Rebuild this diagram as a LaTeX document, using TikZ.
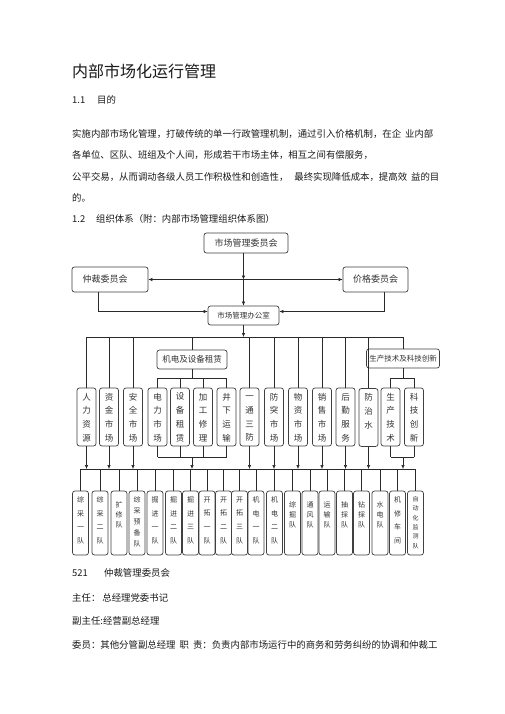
\documentclass[tikz,border=0pt]{standalone}
\usepackage{fontspec}
\setmainfont{Noto Sans CJK SC}
\usetikzlibrary{arrows.meta}
\definecolor{txt}{HTML}{1A1A1A}
\definecolor{dtxt}{HTML}{333333}
\definecolor{boxc}{HTML}{404040}
\definecolor{linec}{HTML}{2A2A2A}
\newcommand\ucol[1]{\parbox[c][58pt][t]{17pt}{\centering\fontsize{8.5}{13.7}\selectfont\vspace*{5pt}\vphantom{国}#1\par}}
\newcommand\bcol[4]{\parbox[c][64pt][t]{15pt}{\centering\fontsize{#1}{#2}\selectfont\vspace*{#3}\vphantom{国}#4\par}}
\newcommand\bfour[1]{\bcol{7}{13.6}{5.8pt}{#1}}
\newcommand\bthree[1]{\bcol{7}{10}{10.8pt}{#1}}
\begin{document}
\begin{tikzpicture}[x=1pt,y=-1pt,
  body/.style={anchor=west, inner sep=0pt, text=txt, font=\fontsize{9.4}{9.4}\selectfont},
  rbox/.style={draw=boxc, rounded corners=2.5pt, line width=0.7pt, inner sep=0pt, text=dtxt},
  ubox/.style={rbox, minimum width=19pt, minimum height=58pt},
  lbox/.style={rbox, minimum width=16pt, minimum height=64pt},
  ln/.style={draw=linec, line width=0.6pt},
  arr/.style={ln, -{Latex[length=4pt,width=3.5pt]}},
  arrr/.style={ln, {Latex[length=4pt,width=3.5pt]}-{Latex[length=4pt,width=3.5pt]}}]
\useasboundingbox (0,0) rectangle (505,714);
\fill[white] (0,0) rectangle (505,714);

% ---------- text ----------
\node[body, font=\fontsize{16}{16}\selectfont] (title) at (72,71) {内部市场化运行管理};
\node[body] (h11) at (72,100) {\makebox[25pt][l]{1.1}目的};
\node[body] (p1) at (72,134) {实施内部市场化管理，打破传统的单一行政管理机制，通过引入价格机制，在企\hspace{4pt}业内部};
\node[body] (p2) at (72,155) {各单位、区队、班组及个人间，形成若干市场主体，相互之间有偿服务，};
\node[body] (p3) at (72,177) {公平交易，从而调动各级人员工作积极性和创造性，\hspace{6pt}最终实现降低成本，提高效\hspace{4pt}益的目};
\node[body] (p4) at (72,198) {的。};
\node[body] (h12) at (72,219) {\makebox[24pt][l]{1.2}组织体系（附：内部市场管理组织体系图）};

\node[body] (h521) at (72,573) {\makebox[32pt][l]{521}仲裁管理委员会};
\node[body] (q1) at (72,598) {主任：\hspace{2pt}总经理党委书记};
\node[body] (q2) at (72,621) {副主任:经营副总经理};
\node[body] (q3) at (72,645) {委员：其他分管副总经理\hspace{4pt}职\hspace{4pt}责：负责内部市场运行中的商务和劳务纠纷的协调和仲裁工};

% ---------- top boxes ----------
\node[rbox, minimum width=84pt, minimum height=20pt, font=\fontsize{9}{9}\selectfont] (A) at (246,243) {市场管理委员会};
\node[rbox, minimum width=76pt, minimum height=25pt, font=\fontsize{9}{9}\selectfont] (B) at (110,279.5) {\hspace*{-10pt}仲裁委员会};
\node[rbox, minimum width=65pt, minimum height=25pt, font=\fontsize{9}{9}\selectfont] (C) at (375.5,279.5) {价格委员会};
\node[rbox, minimum width=71pt, minimum height=19pt, font=\fontsize{7.5}{7.5}\selectfont] (O) at (243.5,315.5) {市场管理办公室};
\coordinate (mid) at (O.north |- B.east);
\draw[arr] (A.south -| O.north) -- (mid);
\draw[arr] (mid) -- (O.north);
\draw[arrr] (B.east) -- (C.west);
\draw[arr] ([xshift=-12pt]B.south) |- ([yshift=4pt]O.west);
\draw[arr] ([xshift=8.5pt]C.south) |- ([yshift=4pt]O.east);

% ---------- group boxes ----------
\node[rbox, minimum width=70pt, minimum height=19pt, font=\fontsize{8.5}{8.5}\selectfont] (M) at (192,359.5) {机电及设备租赁};
\node[rbox, minimum width=73pt, minimum height=19pt, font=\fontsize{7.5}{7.5}\selectfont] (P) at (403,358.5) {生产技术及科技创新};

% ---------- upper vertical boxes ----------
\node[ubox] (v1) at (86.5,417) {\ucol{人\\力\\资\\源}};
\node[ubox] (v2) at (109,417) {\ucol{资\\金\\市\\场}};
\node[ubox] (v3) at (133,417) {\ucol{安\\全\\市\\场}};
\node[ubox] (v4) at (157.5,417) {\ucol{电\\力\\市\\场}};
\node[ubox] (v5) at (180,417) {\ucol{设\\备\\租\\赁}};
\node[ubox] (v6) at (203,417) {\ucol{加\\工\\修\\理}};
\node[ubox] (v7) at (226.5,417) {\ucol{井\\下\\运\\输}};
\node[ubox] (v8) at (249.5,417) {\ucol{一\\通\\三\\防}};
\node[ubox] (v9) at (274,417) {\ucol{防\\突\\市\\场}};
\node[ubox] (v10) at (298,417) {\ucol{物\\资\\市\\场}};
\node[ubox] (v11) at (322,417) {\ucol{销\\售\\市\\场}};
\node[ubox] (v12) at (345.5,417) {\ucol{后\\勤\\服\\务}};
\node[ubox] (v13) at (368.5,417.5) {\ucol{防\\治\\水}};
\node[ubox] (v14) at (390.5,417) {\ucol{生\\产\\技\\术}};
\node[ubox] (v15) at (414,417) {\ucol{科\\技\\创\\新}};

% upper bus
\coordinate (ub) at (0,337);
\draw[arr] (O.south) -- (O.south |- ub);
\draw[ln] (v1.north |- ub) -- (P.north |- ub);
\foreach \n in {v1,v2,v3,v8,v9,v10,v11,v12,v13} \draw[ln] (\n.north |- ub) -- (\n.north);
\draw[ln] (M.north |- ub) -- (M.north);
\draw[ln] (P.north |- ub) -- (P.north);
% group sub buses
\coordinate (gs) at (0,378);
\draw[ln] (M.south) -- (M.south |- gs);
\draw[ln] (v4.north |- gs) -- (v7.north |- gs);
\foreach \n in {v4,v5,v6,v7} \draw[ln] (\n.north |- gs) -- (\n.north);
\draw[ln] (P.south) -- (P.south |- gs);
\draw[ln] (v14.north |- gs) -- (v15.north |- gs);
\foreach \n in {v14,v15} \draw[ln] (\n.north |- gs) -- (\n.north);

% lower side of vertical boxes
\coordinate (lb) at (0,469);
\coordinate (gl) at (0,457);
\foreach \n in {v1,v2,v3,v8,v9,v10,v11,v12,v13} \draw[arr] (\n.south) -- (\n.south |- lb);
\draw[ln] (v4.south |- gl) -- (v7.south |- gl);
\foreach \n in {v4,v5,v6,v7} \draw[ln] (\n.south) -- (\n.south |- gl);
\draw[arr] (M.south |- gl) -- (M.south |- lb);
\draw[ln] (v14.south |- gl) -- (v15.south |- gl);
\foreach \n in {v14,v15} \draw[ln] (\n.south) -- (\n.south |- gl);
\draw[arr] (P.south |- gl) -- (P.south |- lb);

% ---------- bottom boxes ----------
\node[lbox] (b1) at (80.5,523) {\bfour{综\\采\\一\\队}};
\node[lbox] (b2) at (100,523) {\bfour{综\\采\\二\\队}};
\node[lbox] (b3) at (119,523) {\bthree{扩\\修\\队}};
\node[lbox] (b4) at (137,523) {\bcol{7}{11}{5.8pt}{综\\采\\预\\备\\队}};
\node[lbox] (b5) at (155,523) {\bfour{掘\\进\\一\\队}};
\node[lbox] (b6) at (173.5,523) {\bfour{掘\\进\\二\\队}};
\node[lbox] (b7) at (190.5,523) {\bfour{掘\\进\\三\\队}};
\node[lbox] (b8) at (207,523) {\bfour{开\\拓\\一\\队}};
\node[lbox] (b9) at (223.5,523) {\bfour{开\\拓\\二\\队}};
\node[lbox] (b10) at (239.5,523) {\bfour{开\\拓\\三\\队}};
\node[lbox] (b11) at (256,523) {\bfour{机\\电\\一\\队}};
\node[lbox] (b12) at (274.5,523) {\bfour{机\\电\\二\\队}};
\node[lbox] (b13) at (292.5,523) {\bthree{综\\掘\\队}};
\node[lbox] (b14) at (310,523) {\bthree{通\\风\\队}};
\node[lbox] (b15) at (327,523) {\bthree{运\\输\\队}};
\node[lbox] (b16) at (344.5,523) {\bthree{抽\\採\\队}};
\node[lbox] (b17) at (361.5,523) {\bthree{钻\\採\\队}};
\node[lbox] (b18) at (380,523) {\bthree{水\\电\\队}};
\node[lbox] (b19) at (397.5,523) {\bfour{机\\修\\车\\间}};
\node[lbox] (b20) at (415.5,523) {\bcol{6}{9.3}{5.5pt}{自\\动\\化\\监\\测\\队}};

\draw[ln] (b1.north |- lb) -- (b20.north |- lb);
\foreach \i in {1,...,20} \draw[ln] (b\i.north |- lb) -- (b\i.north);
\end{tikzpicture}
\end{document}
